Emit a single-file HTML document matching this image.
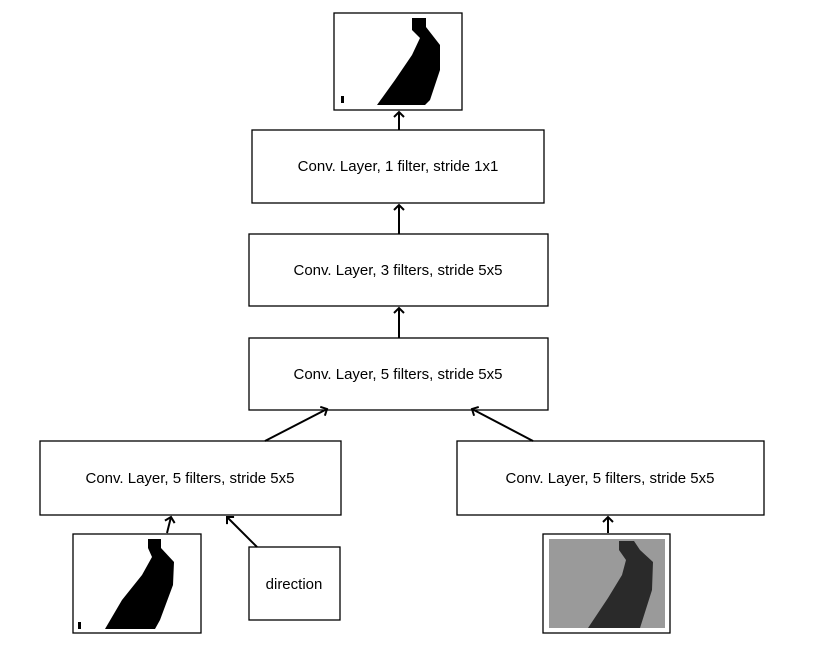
<!DOCTYPE html>
<html><head><style>body{margin:0;background:#fff}svg{display:block}text{font-family:"Liberation Sans",sans-serif;font-size:15px;fill:#000}</style></head><body>
<svg width="814" height="666" viewBox="0 0 814 666" xmlns="http://www.w3.org/2000/svg">
<defs><marker id="a" markerWidth="12" markerHeight="12" refX="6" refY="6" orient="auto" markerUnits="userSpaceOnUse"><path d="M1,1 L6,6 L1,11" fill="none" stroke="#000" stroke-width="2"/></marker></defs>
<g fill="#fff" stroke="#000" stroke-width="1.3">
<rect x="334" y="13" width="128" height="97"/>
<rect x="252" y="130" width="292" height="73"/>
<rect x="249" y="234" width="299" height="72"/>
<rect x="249" y="338" width="299" height="72"/>
<rect x="40" y="441" width="301" height="74"/>
<rect x="457" y="441" width="307" height="74"/>
<rect x="73" y="534" width="128" height="99"/>
<rect x="249" y="547" width="91" height="73"/>
<rect x="543" y="534" width="127" height="99"/>
</g>
<path d="M412,18 L426,18 L426,27 L440,45 L440,70 L430,100 L425,105 L377,105 L395,80 L412,55 L420,38 L412,30 Z" fill="#000"/>
<rect x="341" y="96" width="3" height="7" fill="#000"/>
<path d="M148,539 L161,539 L161,548 L174,562 L173,585 L160,620 L155,629 L105,629 L122,600 L142,575 L152,557 L148,548 Z" fill="#000"/>
<rect x="78" y="622" width="3" height="7" fill="#000"/>
<rect x="549" y="539" width="116" height="89" fill="#9a9a9a"/>
<path d="M619,541 L634,541 L640,550 L653,562 L652,590 L640,628 L588,628 L608,598 L622,575 L626,560 L619,550 Z" fill="#2a2a2a"/>
<g stroke="#000" stroke-width="2" fill="none" marker-end="url(#a)">
<line x1="399" y1="130" x2="399" y2="112"/>
<line x1="399" y1="234" x2="399" y2="205"/>
<line x1="399" y1="338" x2="399" y2="308"/>
<line x1="265" y1="441" x2="327" y2="409"/>
<line x1="533" y1="441" x2="472" y2="409"/>
<line x1="167" y1="533" x2="171" y2="517"/>
<line x1="257" y1="547" x2="227" y2="517"/>
<line x1="608" y1="533" x2="608" y2="517"/>
</g>
<g text-anchor="middle">
<text x="398" y="171">Conv. Layer, 1 filter, stride 1x1</text>
<text x="398" y="275">Conv. Layer, 3 filters, stride 5x5</text>
<text x="398" y="379">Conv. Layer, 5 filters, stride 5x5</text>
<text x="190" y="483">Conv. Layer, 5 filters, stride 5x5</text>
<text x="610" y="483">Conv. Layer, 5 filters, stride 5x5</text>
<text x="294" y="589">direction</text>
</g>
</svg>
</body></html>
